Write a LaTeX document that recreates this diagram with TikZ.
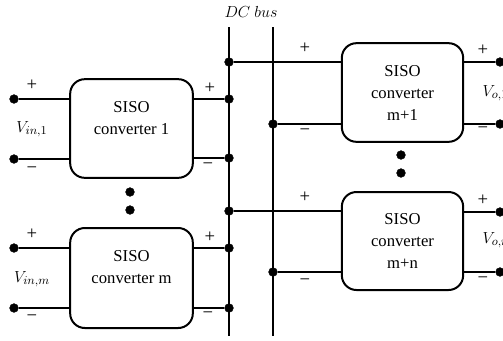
\documentclass[tikz,border=0pt]{standalone}
\usepackage{fontspec}
\setmainfont{Liberation Serif}
\begin{document}
\begin{tikzpicture}[x=0.75pt,y=-0.75pt]
\tikzset{conv/.style = {draw, line width=1.5pt, rounded corners=11pt, minimum width=92pt, minimum height=74pt, align=center, font=\fontsize{12.5}{16.5}\selectfont}}
\tikzset{tpoint/.style = {circle, fill=black, draw=black, inner sep=0pt, minimum size=6.5pt}}
\tikzset{wire/.style = {line width=1.4pt}}
\tikzset{sgn/.style = {font=\fontsize{14}{16}\selectfont, inner sep=1pt}}
\tikzset{vlab/.style = {font=\fontsize{12.5}{15}\selectfont}}
\useasboundingbox (0,0) rectangle (503,340);

% DC bus
\node[vlab] (bus) at (251,12) {$DC\ bus$};
\coordinate (b1t) at (229,27);
\coordinate (b1b) at (229,336);
\coordinate (b2t) at (273,27);
\coordinate (b2b) at (273,336);
\draw[wire] (b1t)--(b1b);
\draw[wire] (b2t)--(b2b);

% left converters
\node[conv] (c1) at (131.5,128.5) {SISO\\converter 1\\\mbox{}};
\node[conv, minimum height=75pt] (cm) at (131.5,278) {SISO\\converter m\\\mbox{}};

    \node[tpoint] (i1p) at (14,99) {};
    \node[tpoint] (i1n) at (14,159) {};
    \node[tpoint] (imp) at (14,248) {};
    \node[tpoint] (imn) at (14,308) {};
    \node[tpoint] (o1p) at (229,99) {};
    \node[tpoint] (o1n) at (229,158) {};
    \node[tpoint] (omp) at (229,248) {};
    \node[tpoint] (omn) at (229,308) {};

\draw[wire] (i1p)--(i1p -| c1.west);
\draw[wire] (i1n)--(i1n -| c1.west);
\draw[wire] (imp)--(imp -| cm.west);
\draw[wire] (imn)--(imn -| cm.west);
\draw[wire] (c1.east |- o1p)--(o1p);
\draw[wire] (c1.east |- o1n)--(o1n);
\draw[wire] (cm.east |- omp)--(omp);
\draw[wire] (cm.east |- omn)--(omn);

    \node[sgn] (s1a) at (32,85) {+};
    \node[sgn] (s1b) at (32,170) {−};
    \node[sgn] (s1c) at (210,88) {+};
    \node[sgn] (s1d) at (208,166) {−};
    \node[sgn] (sma) at (32,234) {+};
    \node[sgn] (smb) at (32,318) {−};
    \node[sgn] (smc) at (210,237) {+};
    \node[sgn] (smd) at (208,315) {−};
    \node[vlab] (vin1) at (32,129) {$V_{in,1}$};
    \node[vlab] (vinm) at (32,279) {$V_{in,m}$};

    \node[tpoint] (d1) at (130,192) {};
    \node[tpoint] (d2) at (130,210) {};

% right converters
\node[conv, minimum width=91pt] (r1) at (402.5,92.5) {SISO\\converter\\m+1};
\node[conv, minimum width=91pt, minimum height=73.5pt] (rn) at (402.5,241) {SISO\\converter\\m+n};

    \node[tpoint] (a1p) at (229,62) {};
    \node[tpoint] (a1n) at (273,124) {};
    \node[tpoint] (anp) at (229,211) {};
    \node[tpoint] (ann) at (273,272) {};
    \node[tpoint] (v1p) at (500,62) {};
    \node[tpoint] (v1n) at (500,124) {};
    \node[tpoint] (vnp) at (500,212) {};
    \node[tpoint] (vnn) at (500,272) {};

\draw[wire] (a1p)--(a1p -| r1.west);
\draw[wire] (a1n)--(a1n -| r1.west);
\draw[wire] (anp)--(anp -| rn.west);
\draw[wire] (ann)--(ann -| rn.west);
\draw[wire] (r1.east |- v1p)--(v1p);
\draw[wire] (r1.east |- v1n)--(v1n);
\draw[wire] (rn.east |- vnp)--(vnp);
\draw[wire] (rn.east |- vnn)--(vnn);

    \node[sgn] (r1a) at (305,48) {+};
    \node[sgn] (r1b) at (305,132) {−};
    \node[sgn] (r1c) at (483,50) {+};
    \node[sgn] (r1d) at (483,130) {−};
    \node[sgn] (rna) at (305,197) {+};
    \node[sgn] (rnb) at (305,282) {−};
    \node[sgn] (rnc) at (483,200) {+};
    \node[sgn] (rnd) at (483,280) {−};
    \node[vlab, anchor=west] (vo1) at (478,93) {$V_{o,1}$};
    \node[vlab, anchor=west] (von) at (478,240) {$V_{o,n}$};

    \node[tpoint] (d3) at (401,155) {};
    \node[tpoint] (d4) at (401,173) {};

\end{tikzpicture}
\end{document}
